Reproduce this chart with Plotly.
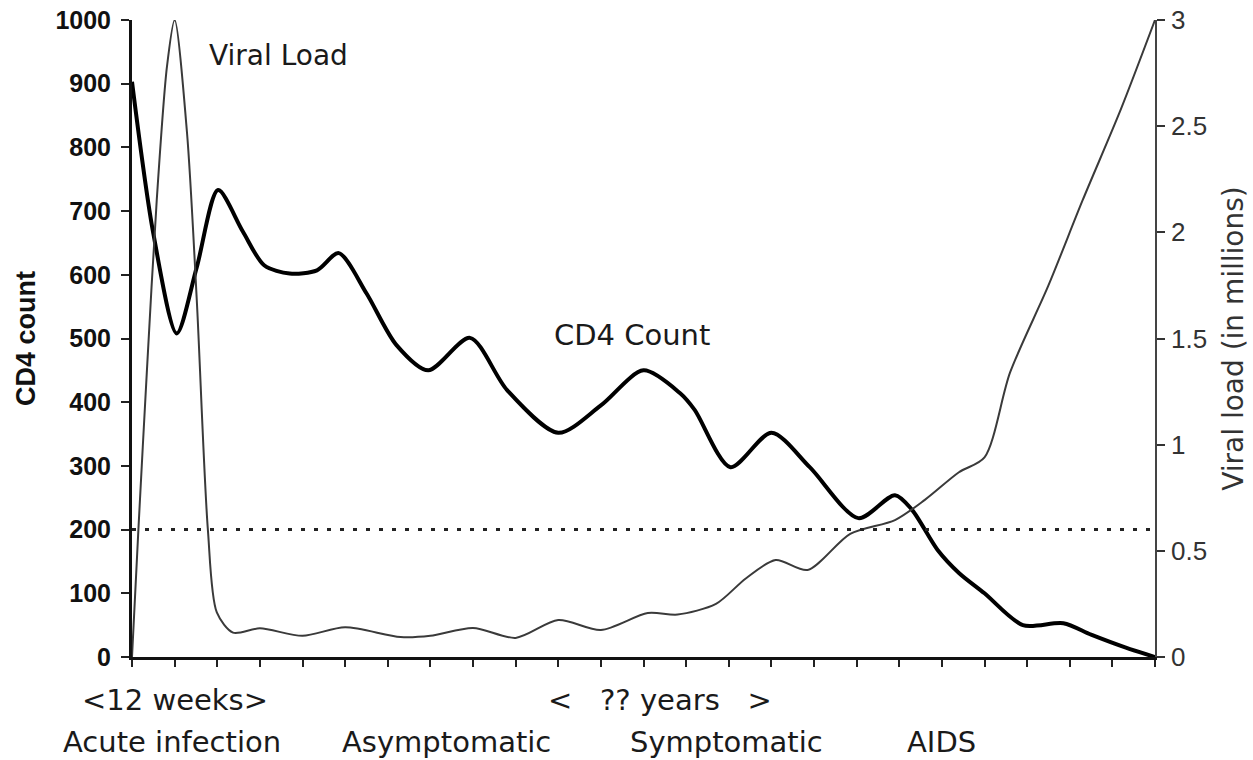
import plotly.graph_objects as go

# --- data ---
cd4_x = [0, 0.5, 1.05, 1.52, 2.02, 2.6, 3.1, 3.7, 4.34, 4.85, 5.5, 6.2, 6.95, 7.93, 8.8, 10.0,
         11.0, 12.0, 12.86, 13.2, 14.04, 15.0, 15.9, 17.04, 17.9, 18.3, 18.9, 19.4, 20.0, 20.9,
         21.85, 22.5, 23.3, 24.0]
cd4_y = [903, 665, 508, 612, 733, 668, 615, 602, 607, 634, 571, 490, 450, 501, 419, 352,
         395, 450, 414, 388, 298, 352, 298, 218, 254, 231, 168, 132, 100, 50,
         53, 35, 15, 0]

vl_x = [0, 0.15, 0.35, 0.58, 0.82, 1.0, 1.29, 1.52, 1.78, 1.99, 2.37, 3.0, 4.0, 5.0, 6.3, 7.0,
        8.0, 9.0, 10.0, 11.0, 12.1, 12.8, 13.7, 14.4, 15.1, 15.85, 16.85, 17.9, 18.6, 19.4,
        20.0, 20.6, 21.5, 22.3, 23.2, 24.0]
vl_y = [0.0, 0.6, 1.35, 2.15, 2.78, 3.0, 2.47, 1.68, 0.6, 0.21, 0.115, 0.135, 0.1, 0.14, 0.094,
        0.1, 0.137, 0.09, 0.174, 0.127, 0.207, 0.2, 0.25, 0.37, 0.457, 0.41, 0.58, 0.645,
        0.74, 0.87, 0.94, 1.34, 1.75, 2.15, 2.58, 3.0]

threshold = 200
x_ticks = list(range(0, 25))
left_ticks = [0, 100, 200, 300, 400, 500, 600, 700, 800, 900, 1000]
right_ticks = [0, 0.5, 1, 1.5, 2, 2.5, 3]
right_tick_text = ["0", "0.5", "1", "1.5", "2", "2.5", "3"]

bottom_labels = ["<12 weeks>", "Acute infection", "Asymptomatic", "<   ?? years   >",
                 "Symptomatic", "AIDS"]
bottom_label_x = [1.0, 0.93, 7.37, 12.39, 13.95, 18.99]
bottom_label_row = [1, 2, 2, 1, 2, 2]

SANS = "Liberation Sans, Arial, sans-serif"
WIDE = "DejaVu Sans, Verdana, sans-serif"

fig = go.Figure()

fig.add_trace(go.Scatter(
    x=vl_x, y=vl_y, mode="lines", yaxis="y2",
    line=dict(color="#3a3a3a", width=2, shape="spline", smoothing=0.8),
    showlegend=False, hoverinfo="skip"))

fig.add_trace(go.Scatter(
    x=cd4_x, y=cd4_y, mode="lines",
    line=dict(color="#000000", width=4, shape="spline", smoothing=0.8),
    showlegend=False, hoverinfo="skip"))

fig.add_shape(type="line", x0=0, x1=24, y0=threshold, y1=threshold, xref="x", yref="y",
              line=dict(color="#222222", width=3, dash="4px,9px"))

fig.add_annotation(x=3.44, y=945, xref="x", yref="y", text="Viral Load", showarrow=False,
                   font=dict(family=WIDE, size=28, color="#1a1a1a"))
fig.add_annotation(x=11.72, y=505, xref="x", yref="y", text="CD4 Count", showarrow=False,
                   font=dict(family=WIDE, size=29, color="#1a1a1a"))

row_y = {1: -0.0675, 2: -0.1334}
for t, xv, r in zip(bottom_labels, bottom_label_x, bottom_label_row):
    fig.add_annotation(x=xv, y=row_y[r], xref="x", yref="paper", text=t, showarrow=False,
                       yanchor="middle", font=dict(family=WIDE, size=29, color="#1a1a1a"))

# right-axis tick labels, left-aligned next to the axis (placed by the y2 scale)
for v, t in zip(right_ticks, right_tick_text):
    fig.add_annotation(x=1, xref="paper", y=v, yref="y2", text=t, showarrow=False,
                       xanchor="left", yanchor="middle", xshift=14,
                       font=dict(family=SANS, size=26, color="#333"))

fig.update_layout(
    width=1253, height=760,
    margin=dict(l=132, r=98, t=20, b=103, autoexpand=False),
    paper_bgcolor="white", plot_bgcolor="white",
    xaxis=dict(range=[0, 24], tickmode="array", tickvals=x_ticks, showticklabels=False,
               ticks="outside", ticklen=7, tickwidth=2, tickcolor="#222",
               showline=True, linecolor="#111", linewidth=3, showgrid=False, zeroline=False),
    yaxis=dict(range=[0, 1000], tickmode="array", tickvals=left_ticks,
               ticks="outside", ticklen=8, tickwidth=2, tickcolor="#222",
               showline=True, linecolor="#111", linewidth=3, showgrid=False, zeroline=False,
               ticklabelstandoff=5, ticklabeloverflow="allow",
               tickfont=dict(family=SANS, size=25, color="#111", weight="bold"),
               title=dict(text="CD4 count", standoff=12,
                          font=dict(family=SANS, size=27, color="#111", weight="bold"))),
    yaxis2=dict(range=[0, 3], overlaying="y", side="right", tickmode="array",
                tickvals=right_ticks, ticktext=right_tick_text,
                ticks="outside", ticklen=8, tickwidth=2, tickcolor="#333",
                showline=True, linecolor="#444", linewidth=2, showgrid=False, zeroline=False,
                ticklabeloverflow="allow",
                tickfont=dict(family=SANS, size=26, color="rgba(0,0,0,0)"),
                title=dict(text="Viral load (in millions)", standoff=18,
                           font=dict(family=WIDE, size=28, color="#333"))),
    # second right axis only to draw the inner half of the crossing ticks
    yaxis3=dict(range=[0, 3], overlaying="y", side="right", tickmode="array",
                tickvals=right_ticks, showticklabels=False,
                ticks="inside", ticklen=7, tickwidth=2, tickcolor="#333",
                showline=False, showgrid=False, zeroline=False),
)

fig.write_html("out.html", config={"displayModeBar": False},
               post_script="document.body.style.margin='0';")
